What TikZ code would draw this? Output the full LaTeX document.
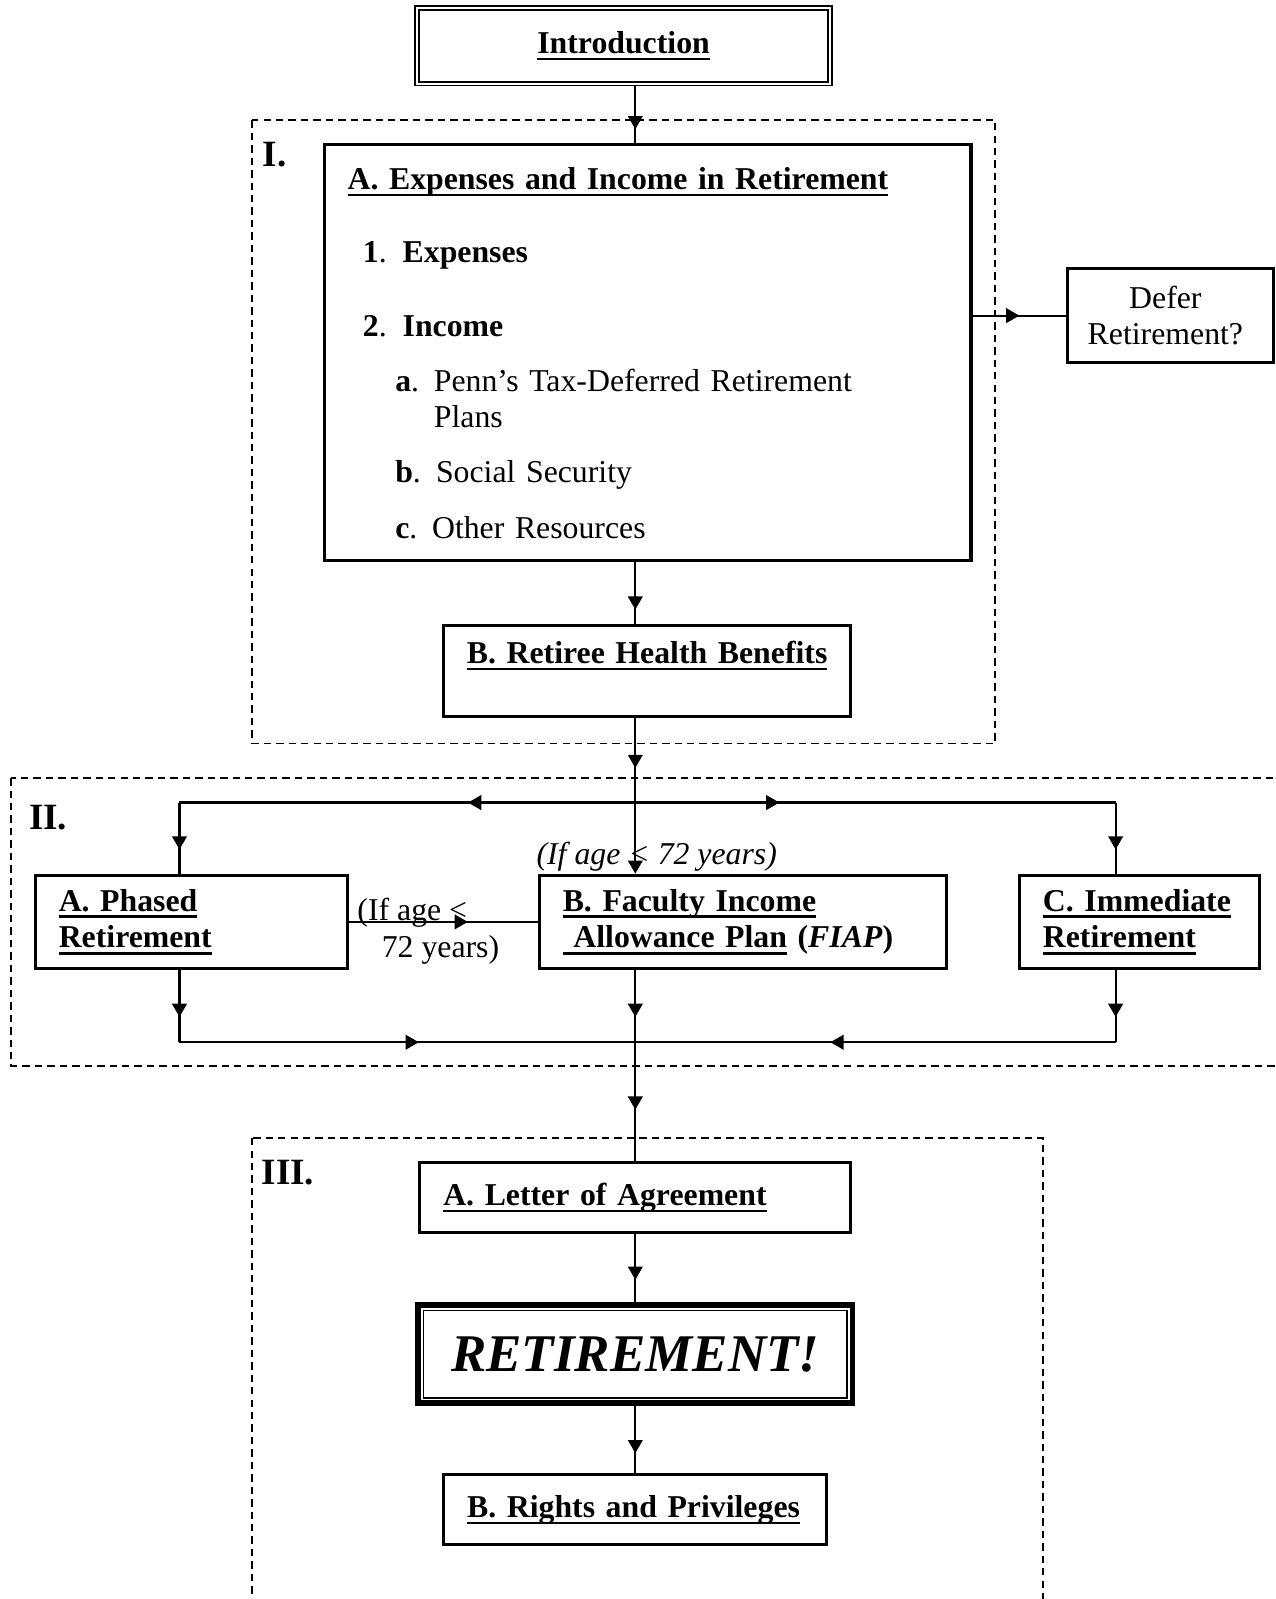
\documentclass[tikz,border=0pt]{standalone}
\usepackage{fontspec}
\setmainfont{Liberation Serif}
\usetikzlibrary{arrows.meta}
\usetikzlibrary{decorations.markings}
\newsavebox{\ulsave}
\newcommand{\ulbox}[1]{\leavevmode\sbox{\ulsave}{#1}\rlap{\rule[-2.5pt]{\wd\ulsave}{0.9pt}}\usebox{\ulsave}}

\begin{document}
\begin{tikzpicture}
[x=0.385pt,y=-0.385pt,>={Triangle[length=5pt,width=5.5pt]},
 every node/.style={font=\fontsize{12}{13.86}\selectfont},
 conn/.style={line width=0.85pt},
 midarrow/.style={postaction={decorate,decoration={markings,mark=at position #1 with {\arrow{>}}}}},
 box/.style={draw,line width=1.15pt,inner xsep=8.85pt,inner ysep=0pt,align=left,font=\fontsize{12}{13.86}\selectfont\bfseries},
 group/.style={line width=0.7pt,dash pattern=on 2.8pt off 1.9pt},
 grouplabel/.style={anchor=west,inner sep=0pt,font=\fontsize{14}{16}\selectfont\bfseries}]

\useasboundingbox (0,0) rectangle (1251,1568);
\clip (0,0) rectangle (1251,1568);

%sections
\draw[group] (247,118) rectangle (976,729);
\draw[group] (11,763) rectangle (1300,1045);
\draw[group] (247,1116) rectangle (1023,1620);

\node[grouplabel] (lblI) at (257,152) {I.};
\node[grouplabel] (lblII) at (28,802) {II.};
\node[grouplabel] (lblIII) at (256,1150) {III.};

%boxes
\node[box,double,line width=0.65pt,double distance=0.8pt,align=center,minimum width=156pt,minimum height=28.5pt] (intro) at (611.5,45) {\ulbox{Introduction}};

\node[box,font=\fontsize{12}{13.86}\selectfont,text width=226.5pt,minimum height=157pt] (expA) at (635,346)
{\ulbox{\textbf{A. Expenses and Income in Retirement}}\\[13.86pt]
\hspace*{5.8pt}\makebox[15pt][l]{\textbf{1}.}\textbf{Expenses}\\[13.86pt]
\hspace*{5.8pt}\makebox[15pt][l]{\textbf{2}.}\textbf{Income}\\[6.93pt]
\hspace*{18pt}\makebox[14.6pt][l]{\textbf{a}.}Penn’s Tax-Deferred Retirement\\
\hspace*{32.6pt}Plans\\[6.93pt]
\hspace*{18pt}\makebox[15.4pt][l]{\textbf{b}.}Social Security\\[6.93pt]
\hspace*{18pt}\makebox[13.9pt][l]{\textbf{c}.}Other Resources};

\node[box,font=\fontsize{12}{13.86}\selectfont,align=center,text width=60pt,minimum height=35.6pt] (defer) at (1148,309.5) {\hspace*{-4pt}Defer\\\hspace*{-4pt}Retirement?};

\node[box,text width=136pt,minimum height=34.5pt] (health) at (634.5,658) {\ulbox{B. Retiree Health Benefits}\\\mbox{}};

\node[box,text width=100pt,minimum height=35.2pt] (phased) at (187.5,904) {\ulbox{A. Phased}\\\ulbox{Retirement}};
\node[box,text width=136pt,minimum height=35.2pt] (fiap) at (728.5,904) {\ulbox{B. Faculty Income}\\\ulbox{\ Allowance Plan} (\textit{FIAP})};
\node[box,text width=73pt,minimum height=35.2pt] (immed) at (1117.5,904) {\ulbox{C. Immediate}\\\ulbox{Retirement}};

\node[box,text width=145pt,minimum height=26.3pt] (letter) at (623,1174.5) {\ulbox{A. Letter of Agreement}};

\node[box,line width=2.2pt,align=center,minimum width=164pt,minimum height=37pt,font=\fontsize{20}{24}\selectfont\bfseries\itshape] (ret) at (623,1328) {RETIREMENT!};
\draw[line width=0.6pt] ([xshift=3.1pt,yshift=-3.1pt]ret.north west) rectangle ([xshift=-3.1pt,yshift=3.1pt]ret.south east);

\node[box,text width=127pt,minimum height=26.3pt] (rights) at (623,1480.5) {\ulbox{B. Rights and Privileges}};

%conditions
\node[font=\fontsize{12}{13.86}\selectfont\itshape,inner sep=0pt] (agetop) at (644,840) {(If age < 72 years)};
\node[anchor=west,inner sep=0pt,align=left] (ageleft) at (350,913) {(If age <\\\hspace*{9.2pt}72 years)};

%junctions
\coordinate (split) at (623,787);
\coordinate (splitL) at (176,787);
\coordinate (splitR) at (1094,787);
\coordinate (merge) at (623,1022);
\coordinate (mergeL) at (176,1022);
\coordinate (mergeR) at (1094,1022);

%main line
\draw[conn,midarrow=0.76] (intro.south -| split) -- (expA.north -| split);
\draw[conn,midarrow=0.5] (expA.east |- defer.west) -- (defer.west);
\draw[conn,midarrow=0.77] (expA.south -| split) -- (health.north -| split);
\draw[conn,midarrow=0.32,->] (health.south -| split) -- (fiap.north -| split);
\draw[conn,midarrow=0.245,midarrow=0.73] (fiap.south -| merge) -- (letter.north -| merge);
\draw[conn,midarrow=0.67] (letter.south) -- (ret.north);
\draw[conn,midarrow=0.7] (ret.south) -- (rights.north);

%branches
\draw[conn,midarrow=0.367] (split) -- (splitL);
\draw[conn,midarrow=0.3] (split) -- (splitR);
\draw[conn,midarrow=0.66] (splitL) -- (splitL |- phased.north);
\draw[conn,midarrow=0.66] (splitR) -- (splitR |- immed.north);
\draw[conn,midarrow=0.63] (phased.east |- fiap.west) -- (fiap.west);
\draw[conn,midarrow=0.65] (phased.south -| mergeL) -- (mergeL);
\draw[conn,midarrow=0.65] (immed.south -| mergeR) -- (mergeR);
\draw[conn,midarrow=0.525] (mergeL) -- (merge);
\draw[conn,midarrow=0.594] (mergeR) -- (merge);

\end{tikzpicture}
\end{document}
